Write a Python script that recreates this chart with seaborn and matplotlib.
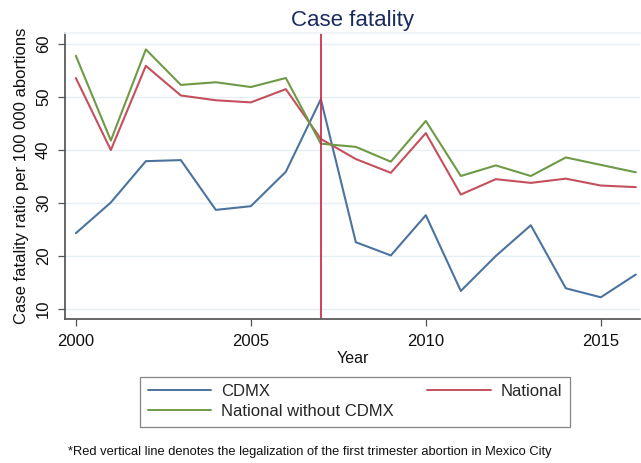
import pandas as pd
import matplotlib
matplotlib.use("Agg")
import matplotlib.pyplot as plt
import seaborn as sns

# ==========================================
# DATOS
# ==========================================
years = list(range(2000, 2017))
cdmx = [24.3, 30.1, 37.9, 38.1, 28.7, 29.4, 35.9, 49.6, 22.6, 20.1, 27.7,
        13.4, 20.0, 25.8, 13.9, 12.2, 16.5]
national = [53.6, 40.0, 55.9, 50.3, 49.4, 49.0, 51.5, 42.1, 38.3, 35.7, 43.2,
            31.6, 34.5, 33.8, 34.6, 33.3, 33.0]
national_wo = [57.8, 41.8, 59.0, 52.3, 52.8, 51.9, 53.6, 41.2, 40.6, 37.8, 45.5,
               35.1, 37.1, 35.1, 38.6, 37.2, 35.8]
series_names = ["CDMX", "National", "National without CDMX"]
colores = {"CDMX": "#4c739f", "National": "#c4505e", "National without CDMX": "#6e9a48"}
anio_legal = 2007

df = pd.DataFrame({
    "Year": years * 3,
    "value": cdmx + national + national_wo,
    "serie": [series_names[0]] * 17 + [series_names[1]] * 17 + [series_names[2]] * 17,
})

sns.set_theme(style="white")
plt.rcParams["font.family"] = ["Liberation Sans", "DejaVu Sans"]

fig = plt.figure(figsize=(6.41, 4.63), dpi=100)
ax = fig.add_axes([65 / 641, 1 - 319 / 463, 575 / 641, (319 - 33) / 463])

sns.lineplot(data=df, x="Year", y="value", hue="serie", hue_order=series_names,
             palette=colores, linewidth=1.5, ax=ax, legend=False)
ax.axvline(anio_legal, color="#d0304e", linewidth=1.3)

ax.set_xlim(1999.69, 2016.12)
ax.set_ylim(8.1, 62.1)
ax.set_xticks([2000, 2005, 2010, 2015])
ax.set_yticks([10, 20, 30, 40, 50, 60])
ax.yaxis.grid(True, color="#e6eff2", linewidth=1.0)
ax.set_axisbelow(True)

ax.spines["right"].set_visible(False)
ax.spines["top"].set_color("#eef3f5")
ax.spines["left"].set_color("#555555")
ax.spines["bottom"].set_color("#555555")
ax.tick_params(axis="both", direction="out", length=5, width=0.9, color="#555555",
               labelsize=12, labelcolor="#111111", left=True, bottom=True)
ax.tick_params(axis="x", pad=6)
ax.tick_params(axis="y", pad=5)
for lbl in ax.get_yticklabels():
    lbl.set_rotation(90)
    lbl.set_va("center")

ax.set_xlabel("Year", fontsize=11.5, color="#111111", labelpad=1)
ax.set_ylabel("Case fatality ratio per 100 000 abortions", fontsize=12, color="#111111", labelpad=5)
ax.set_title("Case fatality", fontsize=16, color="#1c2b5e", pad=5)

# leyenda
handles = [plt.Line2D([], [], color=colores[n], linewidth=1.4) for n in series_names]
orden = [0, 2, 1]
leg = fig.legend([handles[i] for i in orden], [series_names[i] for i in orden],
                 loc="center", bbox_to_anchor=(355 / 641, 1 - 401.5 / 463), ncol=2,
                 fontsize=12, frameon=True, fancybox=False, edgecolor="#666666",
                 handlelength=3.8, handletextpad=0.6, columnspacing=2.0,
                 labelspacing=0.3, borderpad=0.45)
leg.get_frame().set_linewidth(0.9)

fig.text(310 / 641, 1 - 452 / 463,
         "*Red vertical line denotes the legalization of the first trimester abortion in Mexico City",
         ha="center", va="center", fontsize=9.3, color="#111111")

plt.savefig("out.png", dpi=100)
